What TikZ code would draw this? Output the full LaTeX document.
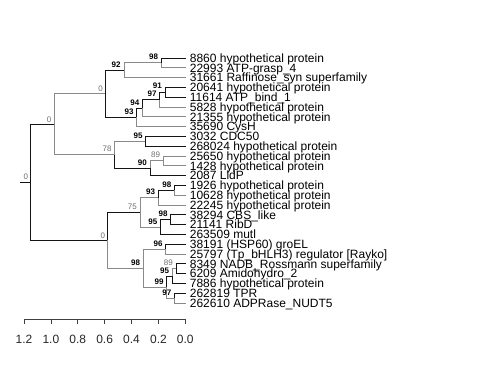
\documentclass[tikz,border=0pt]{standalone}
\usepackage{fontspec}
\setmainfont{Liberation Sans}
\definecolor{edgegray}{RGB}{138,138,138}
\definecolor{labgray}{RGB}{110,110,110}
\definecolor{edgeblack}{RGB}{20,20,20}
\tikzset{
  kedge/.style={draw=edgeblack, line width=0.9pt},
  gedge/.style={draw=edgegray, line width=0.9pt},
  leaflab/.style={anchor=base west, inner sep=0pt, font=\fontsize{12}{12}\selectfont},
  blab/.style={anchor=base east, inner sep=0pt, font=\fontsize{8}{8}\selectfont\bfseries, text=black},
  glab/.style={anchor=base east, inner sep=0pt, font=\fontsize{8}{8}\selectfont, text=labgray},
  ticklab/.style={anchor=base, inner sep=0pt, font=\fontsize{12}{12}\selectfont, text=black!85},
  axisline/.style={draw=black!75, line width=0.8pt}
}
\begin{document}
\begin{tikzpicture}[x=1pt,y=-1pt]
\useasboundingbox (0,0) rectangle (480,390);
% tips
\foreach \i in {1,...,26} \coordinate (t\i) at (185.7,{58+9.8*(\i-1)});
% internal nodes
\coordinate (root) at (30.7,182.25);
\coordinate (rstub) at (20,182.25);
\coordinate (A) at (54,124.3);
\coordinate (B) at (105,93.8);
\coordinate (n92) at (124,70.25);
\coordinate (n98a) at (161.7,62.9);
\coordinate (n93) at (136.7,117.4);
\coordinate (n94) at (142.5,108.2);
\coordinate (n97) at (159.3,99.65);
\coordinate (n91) at (165.3,92.3);
\coordinate (n78) at (114.3,154.8);
\coordinate (n95) at (145.7,141.3);
\coordinate (n90) at (150,168.25);
\coordinate (n89) at (163.3,160.9);
\coordinate (C) at (107.3,240.2);
\coordinate (n75) at (140,212.35);
\coordinate (n93b) at (158.3,197.65);
\coordinate (n98b) at (174.5,190.3);
\coordinate (n95b) at (160.5,227.05);
\coordinate (n98c) at (170.7,219.7);
\coordinate (n98d) at (143.3,268.1);
\coordinate (n96) at (165.7,249.1);
\coordinate (n99) at (166.7,287.1);
\coordinate (n95c) at (172.3,276.05);
\coordinate (n89b) at (176,268.7);
\coordinate (n97b) at (174.5,298.1);
% edges
\draw[kedge] (rstub) -- (root);
\draw[kedge] (root) |- (A);
\draw[kedge] (root) |- (C);
\draw[gedge] (A) |- (B);
\draw[gedge] (A) |- (n78);
\draw[kedge] (B) |- (n92);
\draw[kedge] (B) |- (n93);
\draw[gedge] (n92) |- (n98a);
\draw[gedge] (n92) |- (t3);
\draw[kedge] (n98a) |- (t1);
\draw[gedge] (n98a) |- (t2);
\draw[kedge] (n93) |- (n94);
\draw[gedge] (n93) |- (t8);
\draw[kedge] (n94) |- (n97);
\draw[gedge] (n94) |- (t7);
\draw[kedge] (n97) |- (n91);
\draw[gedge] (n97) |- (t6);
\draw[kedge] (n91) |- (t4);
\draw[kedge] (n91) |- (t5);
\draw[gedge] (n78) |- (n95);
\draw[kedge] (n78) |- (n90);
\draw[kedge] (n95) |- (t9);
\draw[kedge] (n95) |- (t10);
\draw[gedge] (n90) |- (n89);
\draw[kedge] (n90) |- (t13);
\draw[gedge] (n89) |- (t11);
\draw[gedge] (n89) |- (t12);
\draw[kedge] (C) |- (n75);
\draw[gedge] (C) |- (n98d);
\draw[gedge] (n75) |- (n93b);
\draw[gedge] (n75) |- (n95b);
\draw[kedge] (n93b) |- (n98b);
\draw[gedge] (n93b) |- (t16);
\draw[kedge] (n98b) |- (t14);
\draw[gedge] (n98b) |- (t15);
\draw[kedge] (n95b) |- (n98c);
\draw[kedge] (n95b) |- (t19);
\draw[kedge] (n98c) |- (t17);
\draw[kedge] (n98c) |- (t18);
\draw[gedge] (n98d) |- (n96);
\draw[gedge] (n98d) |- (n99);
\draw[kedge] (n96) |- (t20);
\draw[gedge] (n96) |- (t21);
\draw[kedge] (n99) |- (n95c);
\draw[gedge] (n99) |- (n97b);
\draw[gedge] (n95c) |- (n89b);
\draw[kedge] (n95c) |- (t24);
\draw[kedge] (n89b) |- (t22);
\draw[kedge] (n89b) |- (t23);
\draw[kedge] (n97b) |- (t25);
\draw[gedge] (n97b) |- (t26);
% node labels
\node[glab] (Lroot) at ([xshift=-2.5pt,yshift=2.5pt]root) {0};
\node[glab] (LA) at ([xshift=-2.5pt,yshift=2pt]A) {0};
\node[glab] (LB) at ([xshift=-2pt,yshift=1.8pt]B) {0};
\node[blab] (L92) at ([xshift=-3.3pt,yshift=3pt]n92) {92};
\node[blab] (L98a) at ([xshift=-3.5pt,yshift=3pt]n98a) {98};
\node[blab] (L93) at ([xshift=-3pt,yshift=3pt]n93) {93};
\node[blab] (L94) at ([xshift=-3pt,yshift=3pt]n94) {94};
\node[blab] (L97) at ([xshift=-2.6pt,yshift=3pt]n97) {97};
\node[blab] (L91) at ([xshift=-3.3pt,yshift=4pt]n91) {91};
\node[glab] (L78) at ([xshift=-2.5pt,yshift=3pt]n78) {78};
\node[blab] (L95) at ([xshift=-3pt,yshift=3pt]n95) {95};
\node[blab] (L90) at ([xshift=-3pt,yshift=3pt]n90) {90};
\node[glab] (L89) at ([xshift=-3pt,yshift=3pt]n89) {89};
\node[glab] (LC) at ([xshift=-2pt,yshift=2pt]C) {0};
\node[glab] (L75) at ([xshift=-3pt,yshift=3pt]n75) {75};
\node[blab] (L93b) at ([xshift=-3pt,yshift=3pt]n93b) {93};
\node[blab] (L98b) at ([xshift=-3pt,yshift=3pt]n98b) {98};
\node[blab] (L95b) at ([xshift=-3pt,yshift=3pt]n95b) {95};
\node[blab] (L98c) at ([xshift=-3pt,yshift=3pt]n98c) {98};
\node[blab] (L98d) at ([xshift=-3pt,yshift=3pt]n98d) {98};
\node[blab] (L96) at ([xshift=-3pt,yshift=3pt]n96) {96};
\node[blab] (L99) at ([xshift=-3pt,yshift=3pt]n99) {99};
\node[blab] (L95c) at ([xshift=-3pt,yshift=3pt]n95c) {95};
\node[glab] (L89b) at ([xshift=-3pt,yshift=3pt]n89b) {89};
\node[blab] (L97b) at ([xshift=-3pt,yshift=3pt]n97b) {97};
% leaf labels
\node[leaflab] (l1) at ([xshift=4pt,yshift=-4.3pt]t1) {8860 hypothetical protein};
\node[leaflab] (l2) at ([xshift=4pt,yshift=-4.3pt]t2) {22993 ATP-grasp\_4};
\node[leaflab] (l3) at ([xshift=4pt,yshift=-4.3pt]t3) {31661 Raffinose\_syn superfamily};
\node[leaflab] (l4) at ([xshift=4pt,yshift=-4.3pt]t4) {20641 hypothetical protein};
\node[leaflab] (l5) at ([xshift=4pt,yshift=-4.3pt]t5) {11614 ATP\_bind\_1};
\node[leaflab] (l6) at ([xshift=4pt,yshift=-4.3pt]t6) {5828 hypothetical protein};
\node[leaflab] (l7) at ([xshift=4pt,yshift=-4.3pt]t7) {21355 hypothetical protein};
\node[leaflab] (l8) at ([xshift=4pt,yshift=-4.3pt]t8) {35690 CysH};
\node[leaflab] (l9) at ([xshift=4pt,yshift=-4.3pt]t9) {3032 CDC50};
\node[leaflab] (l10) at ([xshift=4pt,yshift=-4.3pt]t10) {268024 hypothetical protein};
\node[leaflab] (l11) at ([xshift=4pt,yshift=-4.3pt]t11) {25650 hypothetical protein};
\node[leaflab] (l12) at ([xshift=4pt,yshift=-4.3pt]t12) {1428 hypothetical protein};
\node[leaflab] (l13) at ([xshift=4pt,yshift=-4.3pt]t13) {2087 LldP};
\node[leaflab] (l14) at ([xshift=4pt,yshift=-4.3pt]t14) {1926 hypothetical protein};
\node[leaflab] (l15) at ([xshift=4pt,yshift=-4.3pt]t15) {10628 hypothetical protein};
\node[leaflab] (l16) at ([xshift=4pt,yshift=-4.3pt]t16) {22245 hypothetical protein};
\node[leaflab] (l17) at ([xshift=4pt,yshift=-4.3pt]t17) {38294 CBS\_like};
\node[leaflab] (l18) at ([xshift=4pt,yshift=-4.3pt]t18) {21141 RibD};
\node[leaflab] (l19) at ([xshift=4pt,yshift=-4.3pt]t19) {263509 mutl};
\node[leaflab] (l20) at ([xshift=4pt,yshift=-4.3pt]t20) {38191 (HSP60) groEL};
\node[leaflab] (l21) at ([xshift=4pt,yshift=-4.3pt]t21) {25797 (Tp\_bHLH3) regulator [Rayko]};
\node[leaflab] (l22) at ([xshift=4pt,yshift=-4.3pt]t22) {8349 NADB\_Rossmann superfamily};
\node[leaflab] (l23) at ([xshift=4pt,yshift=-4.3pt]t23) {6209 Amidohydro\_2};
\node[leaflab] (l24) at ([xshift=4pt,yshift=-4.3pt]t24) {7886 hypothetical protein};
\node[leaflab] (l25) at ([xshift=4pt,yshift=-4.3pt]t25) {262819 TPR};
\node[leaflab] (l26) at ([xshift=4pt,yshift=-4.3pt]t26) {262610 ADPRase\_NUDT5};
% scale axis
\coordinate (ax0) at (185.3,319);
\coordinate (ax12) at (24,319);
\draw[axisline] (ax12) -- (ax0);
\foreach \k/\lab in {0/0.0,1/0.2,2/0.4,3/0.6,4/0.8,5/1.0,6/1.2} {
  \coordinate (tk\k) at ({185.3-26.88*\k},319);
  \draw[axisline] (tk\k) -- ++(0,5.5);
  \node[ticklab] (tl\k) at ({185.3-26.88*\k},343.3) {\lab};
}
\end{tikzpicture}
\end{document}
